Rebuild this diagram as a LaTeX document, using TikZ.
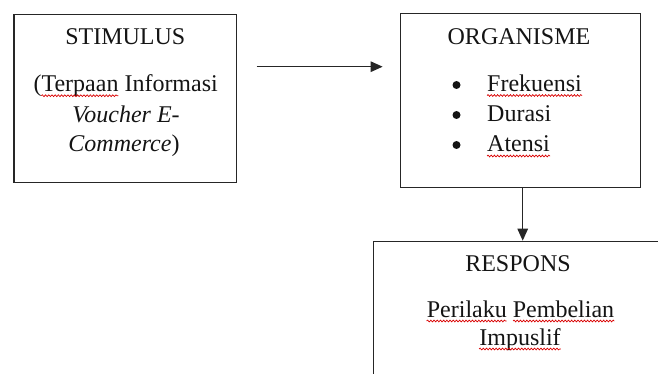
\documentclass[tikz,border=0pt]{standalone}
\usepackage{fontspec}
\setmainfont{Liberation Serif}
\usetikzlibrary{arrows.meta,decorations.pathmorphing}
\newlength\wA
\newlength\wB
\newlength\wC
\newlength\wD
\newcommand\bigtxt{\fontsize{24pt}{30pt}\selectfont}
\AtBeginDocument{%
  \settowidth{\wA}{\bigtxt (}%
  \settowidth{\wB}{\bigtxt (Terpaan}%
  \settowidth{\wC}{\bigtxt Perilaku}%
  \settowidth{\wD}{\bigtxt Pembelian}}
\begin{document}
\begin{tikzpicture}[x=1pt,y=-1pt,
  box/.style={draw=black!85, line width=1.3pt, inner sep=0pt},
  txt/.style={inner sep=0pt, font=\bigtxt, text=black!92},
  bul/.style={circle, fill=black!92, inner sep=0pt, minimum size=8pt},
  conn/.style={draw=black!85, line width=1.2pt, -{Triangle[length=12pt,width=10.5pt]}},
  squig/.style={draw=red!85!black, line width=0.7pt, decorate, decoration={snake, amplitude=0.9pt, segment length=3.2pt}}]
\useasboundingbox (0,0) rectangle (658,374);
\clip (0,0) rectangle (658,374);
% boxes
\node[box, minimum width=222.7pt, minimum height=168.4pt] (stim) at (125.35,98.5) {};
\node[box, minimum width=240pt, minimum height=174pt] (org) at (520.7,100.3) {};
\node[box, minimum width=295pt, minimum height=170pt, anchor=north west] (resp) at (372.7,240.7) {};
% stimulus texts
\node[txt, anchor=base] (stimT) at (125.3,45) {STIMULUS};
\node[txt, anchor=base] (stimL1) at (125.7,91.7) {(Terpaan Informasi};
\node[txt, anchor=base] (stimL2) at (126,123) {\textit{Voucher E-}};
\node[txt, anchor=base] (stimL3) at (124,151.7) {\textit{Commerce})};
% organisme texts
\node[txt, anchor=base] (orgT) at (519,45) {ORGANISME};
\node[bul] (b1) at (456.5,85) {};
\node[bul] (b2) at (456.5,115) {};
\node[bul] (b3) at (456.5,145) {};
\node[txt, anchor=base west] (i1) at (487,91.5) {Frekuensi};
\node[txt, anchor=base west] (i2) at (487,121.5) {Durasi};
\node[txt, anchor=base west] (i3) at (487,151.5) {Atensi};
% respons texts
\node[txt, anchor=base] (respT) at (518,271) {RESPONS};
\node[txt, anchor=base] (respL1) at (520.5,317) {Perilaku Pembelian};
\node[txt, anchor=base] (respL2) at (520,345) {Impuslif};
% connectors
\coordinate (hy) at (0,66.7);
\draw[conn, shorten <=19.3pt, shorten >=17.4pt] (stim.east |- hy) -- (org.west |- hy);
\draw[conn] ([xshift=2pt]org.south) -- ([xshift=2pt]org.south |- resp.north);
% spell-check squiggles
\draw[squig] ([xshift=\wA, yshift=-4pt]stimL1.base west) -- ([xshift=\wB, yshift=-4pt]stimL1.base west);
\draw[squig] ([yshift=-4pt]i1.base west) -- ([yshift=-4pt]i1.base east);
\draw[squig] ([yshift=-4.5pt]i3.base west) -- ([yshift=-4.5pt]i3.base east);
\draw[squig] ([yshift=-4pt]respL1.base west) -- ([xshift=\wC, yshift=-4pt]respL1.base west);
\draw[squig] ([xshift=-\wD, yshift=-4pt]respL1.base east) -- ([yshift=-4pt]respL1.base east);
\draw[squig] ([yshift=-4pt]respL2.base west) -- ([yshift=-4pt]respL2.base east);
\end{tikzpicture}
\end{document}
